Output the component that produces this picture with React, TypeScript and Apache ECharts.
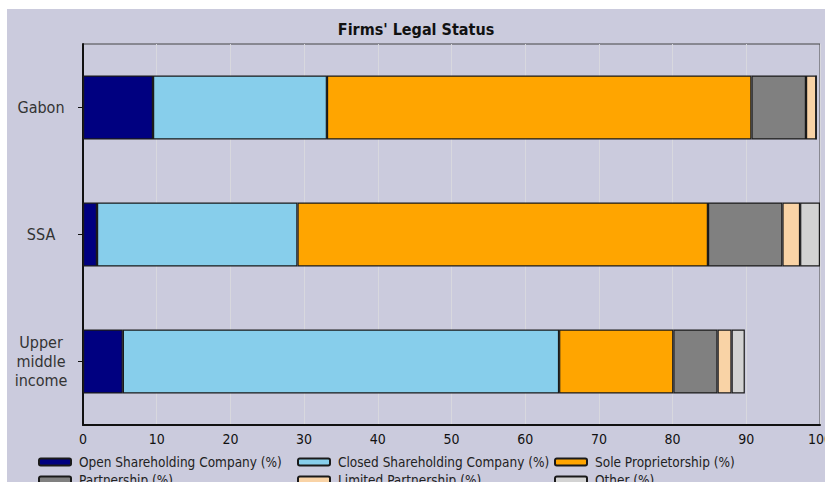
import React, { useEffect, useRef } from "react";
import * as echarts from "echarts";

const categories = ["Gabon", "SSA", "Upper\nmiddle\nincome"];
const seriesNames = [
  "Open Shareholding Company (%)",
  "Closed Shareholding Company (%)",
  "Sole Proprietorship (%)",
  "Partnership (%)",
  "Limited Partnership (%)",
  "Other (%)",
];
const openShare = [9.5, 1.9, 5.4];
const closedShare = [23.6, 27.2, 59.2];
const soleProp = [57.6, 55.7, 15.5];
const partnership = [7.4, 10.1, 6.0];
const limitedPart = [1.4, 2.4, 1.9];
const otherStatus = [0, 2.7, 1.8];
const xTicks = { min: 0, max: 100, interval: 10 };

const colors = ["#000080", "#87ceeb", "#ffa500", "#808080", "#f9d3a6", "#d3d3d3"];
const FONT = "'DejaVu Sans Condensed', 'Liberation Sans Narrow', 'Liberation Sans', sans-serif";

export default function App() {
  const ref = useRef<HTMLDivElement>(null);
  useEffect(() => {
    if (!ref.current) return;
    const chart = echarts.init(ref.current, undefined, { renderer: "svg" });
    const values = [openShare, closedShare, soleProp, partnership, limitedPart, otherStatus];
    const legendCol = (names: string[], left: number) => ({
      data: names,
      orient: "vertical" as const,
      left,
      top: 445,
      height: 60,
      padding: 0,
      itemGap: 2,
      itemWidth: 32,
      itemHeight: 7,
      icon: "roundRect",
      selectedMode: false,
      textStyle: { fontFamily: FONT, fontSize: 13.5, lineHeight: 16, color: "#222", padding: [0, 0, 0, 3] },
    });
    chart.setOption({
      animation: false,
      backgroundColor: "transparent",
      title: {
        text: "Firms' Legal Status",
        left: "center",
        top: 7,
        textStyle: { fontFamily: FONT, fontSize: 16, fontWeight: "bold", color: "#111" },
      },
      legend: [
        legendCol([seriesNames[0], seriesNames[3]], 31),
        legendCol([seriesNames[1], seriesNames[4]], 290),
        legendCol([seriesNames[2], seriesNames[5]], 547),
      ],
      grid: {
        left: 76,
        right: 5,
        top: 35,
        bottom: 57,
        outerBoundsMode: "none",
        containLabel: false,
        show: true,
        borderColor: "#444",
        borderWidth: 1,
      },
      xAxis: {
        type: "value",
        min: xTicks.min,
        max: xTicks.max,
        interval: xTicks.interval,
        axisLine: { show: true, lineStyle: { color: "#111", width: 2 } },
        axisTick: { show: false },
        axisLabel: { fontFamily: FONT, fontSize: 14, color: "#111", margin: 7 },
        splitLine: { show: true, lineStyle: { color: "#d8d8de", width: 1 } },
      },
      yAxis: {
        type: "category",
        data: categories,
        inverse: true,
        axisLine: { show: true, lineStyle: { color: "#111", width: 2 } },
        axisTick: { show: true, alignWithLabel: true, length: 5, lineStyle: { color: "#111" } },
        axisLabel: {
          fontFamily: FONT,
          fontSize: 16,
          lineHeight: 19,
          color: "#333",
          align: "center",
          margin: 42,
        },
      },
      series: seriesNames.map((name, i) => ({
        name,
        type: "bar",
        stack: "total",
        barWidth: 64,
        data: values[i],
        itemStyle: { color: colors[i], borderColor: "#1a1a1a", borderWidth: 1.2 },
      })),
    });
    return () => chart.dispose();
  }, []);
  return (
    <div style={{ position: "fixed", left: 0, top: 0, width: 825, height: 482, background: "#fff", overflow: "hidden" }}>
      <div
        ref={ref}
        style={{ position: "absolute", left: 7, top: 9, width: 818, height: 473, background: "#cbcbdd" }}
      />
    </div>
  );
}
